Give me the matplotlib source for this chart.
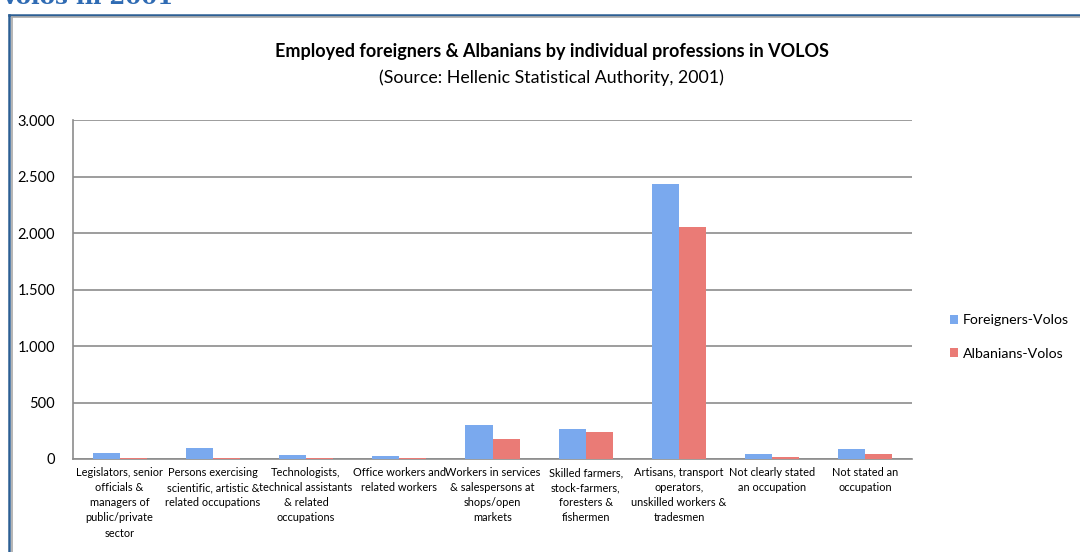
import matplotlib
matplotlib.use("Agg")
import matplotlib.pyplot as plt
from matplotlib.lines import Line2D
from matplotlib.ticker import FuncFormatter
import numpy as np

plt.rcParams['font.family'] = ['Lato', 'DejaVu Sans']

categories = [
    "Legislators, senior\nofficials &\nmanagers of\npublic/private\nsector",
    "Persons exercising\nscientific, artistic &\nrelated occupations",
    "Technologists,\ntechnical assistants\n& related\noccupations",
    "Office workers and\nrelated workers",
    "Workers in services\n& salespersons at\nshops/open\nmarkets",
    "Skilled farmers,\nstock-farmers,\nforesters &\nfishermen",
    "Artisans, transport\noperators,\nunskilled workers &\ntradesmen",
    "Not clearly stated\nan occupation",
    "Not stated an\noccupation",
]
foreigners = [57, 95, 39, 24, 300, 265, 2435, 42, 92]
albanians = [12, 12, 12, 12, 177, 235, 2055, 20, 42]
y_ticks = [0, 500, 1000, 1500, 2000, 2500, 3000]

fig = plt.figure(figsize=(10.8, 5.52), dpi=100)

# page heading cut off at the top + frame around the chart
fig.text(0.0, 1 - 4 / 552, "Volos in 2001", family="DejaVu Serif", weight="bold",
         fontsize=16.5, color="#2f6bb3", va="baseline", ha="left")
fig.add_artist(Line2D([9 / 1080, 9 / 1080], [0, 1 - 14.5 / 552], color="#2c5f94", lw=1.8))
fig.add_artist(Line2D([9 / 1080, 1], [1 - 14.5 / 552, 1 - 14.5 / 552], color="#2c5f94", lw=1.8))
fig.add_artist(Line2D([11.5 / 1080, 11.5 / 1080], [0, 1 - 17 / 552], color="#a8a8a8", lw=1.2))
fig.add_artist(Line2D([11.5 / 1080, 1], [1 - 17 / 552, 1 - 17 / 552], color="#a8a8a8", lw=1.2))

ax = fig.add_axes([73 / 1080, 1 - 459 / 552, (912 - 73) / 1080, (459 - 120) / 552])

x = np.arange(len(categories))
w = 0.29
ax.bar(x - w / 2, foreigners, w, color="#7aa9ee", label="Foreigners-Volos", zorder=3)
ax.bar(x + w / 2, albanians, w, color="#ea7b76", label="Albanians-Volos", zorder=3)

ax.set_xlim(-0.5, len(categories) - 0.5)
ax.set_ylim(0, 3000)
ax.set_yticks(y_ticks)
ax.yaxis.set_major_formatter(FuncFormatter(lambda v, p: f"{int(v):,}".replace(",", ".")))
ax.grid(axis="y", color="#8c8c8c", lw=1.2, zorder=0)
ax.set_xticks(x)
ax.set_xticklabels(categories, fontsize=7.9, linespacing=1.45, va="top")
ax.tick_params(axis="x", length=0, pad=6)
ax.tick_params(axis="y", length=0, pad=13, labelsize=10.5)
for s in ["top", "right"]:
    ax.spines[s].set_visible(False)
for s in ["left", "bottom"]:
    ax.spines[s].set_color("#8c8c8c")
    ax.spines[s].set_linewidth(1.2)

fig.text(0.511, 1 - 52 / 552, "Employed foreigners & Albanians by individual professions in VOLOS",
         ha="center", va="center", fontsize=13, weight="bold")
fig.text(0.511, 1 - 78 / 552, "(Source: Hellenic Statistical Authority, 2001)",
         ha="center", va="center", fontsize=12.8)

ax.legend(loc="center left", bbox_to_anchor=(1.03, 0.36), frameon=False, fontsize=10.2,
          handlelength=0.6, handleheight=0.6, handletextpad=0.3, labelspacing=1.5)

fig.savefig("out.png", dpi=100)
